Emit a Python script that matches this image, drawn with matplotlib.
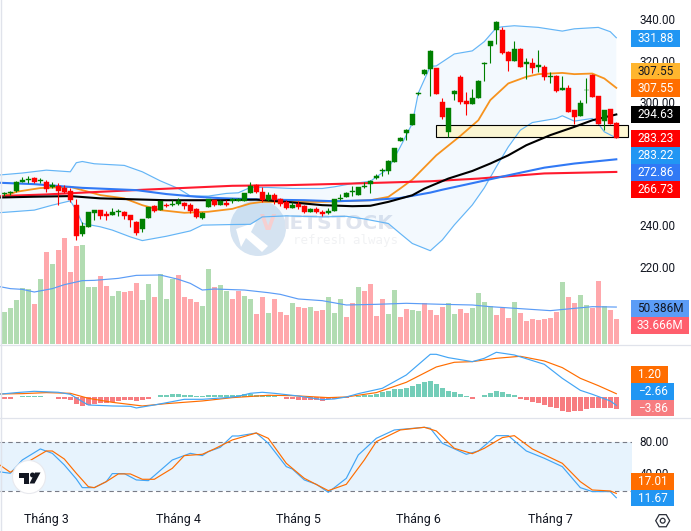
import matplotlib
matplotlib.use("Agg")
import matplotlib.pyplot as plt
from matplotlib.patches import Circle, Polygon, Rectangle, RegularPolygon
from matplotlib.transforms import IdentityTransform

W, H = 691, 531

# Daily candles
opens = [256.0, 256.4, 257.4, 262.0, 262.6, 263.7, 262.4, 261.8, 259.4, 260.0,
         258.9, 257.7, 250.6, 236.5, 239.9, 246.9, 248.3, 246.4, 245.8, 247.5,
         247.4, 245.8, 242.3, 239.1, 244.3, 250.1, 248.2, 250.8, 250.8, 251.1,
         251.6, 250.6, 248.7, 244.5, 249.6, 253.0, 250.6, 251.6, 252.6, 252.6,
         252.6, 256.5, 260.6, 257.2, 253.2, 255.3, 253.5, 252.0, 249.3, 251.3,
         250.1, 247.4, 248.7, 247.2, 246.7, 247.8, 253.7, 254.7, 257.1, 255.6,
         259.3, 261.0, 264.0, 267.1, 267.3, 271.6, 281.8, 285.4, 289.6, 304.6,
         314.4, 316.8, 317.1, 300.6, 286.2, 304.8, 312.7, 301.1, 299.8, 302.7,
         318.9, 328.1, 335.7, 335.6, 324.9, 320.7, 326.3, 318.9, 319.7, 317.9,
         317.6, 312.6, 313.4, 306.7, 307.4, 296.7, 293.8, 306.3, 313.7, 303.5,
         291.5, 297.2, 290.7]
closes = [256.6, 256.8, 261.8, 262.8, 263.1, 262.0, 262.9, 258.4, 260.3, 257.6,
          257.1, 253.2, 235.4, 240.4, 247.2, 248.2, 245.3, 245.3, 247.2, 247.9,
          245.3, 243.3, 237.2, 243.8, 249.6, 247.7, 252.6, 250.3, 251.1, 252.7,
          250.3, 248.0, 244.8, 246.7, 253.4, 250.6, 252.6, 250.8, 253.4, 253.5,
          256.3, 260.1, 256.8, 253.2, 255.3, 252.9, 251.4, 249.3, 250.8, 249.8,
          247.4, 248.7, 247.4, 246.5, 248.0, 253.4, 254.3, 256.4, 257.4, 259.3,
          259.8, 262.3, 264.8, 267.9, 272.0, 278.3, 283.3, 287.0, 294.8, 305.0,
          316.0, 325.5, 304.6, 293.3, 298.0, 305.9, 300.6, 299.6, 302.5, 311.0,
          319.7, 330.2, 339.5, 324.4, 320.7, 326.3, 317.8, 320.2, 317.3, 318.4,
          312.9, 313.2, 305.9, 307.4, 295.7, 293.3, 300.1, 306.6, 303.0, 290.2,
          297.0, 290.2, 283.23]
highs = [257.1, 257.4, 262.3, 264.1, 265.0, 264.1, 263.9, 262.8, 261.8, 261.5,
         260.3, 258.7, 253.4, 242.5, 247.2, 248.2, 248.3, 247.9, 249.0, 248.7,
         247.9, 245.8, 243.0, 243.8, 249.6, 250.6, 252.6, 251.7, 253.0, 254.3,
         252.1, 251.7, 249.2, 247.2, 253.4, 253.0, 253.0, 253.0, 254.2, 254.3,
         256.3, 261.9, 261.1, 259.2, 256.8, 256.3, 254.2, 253.0, 252.2, 252.4,
         250.6, 249.3, 249.5, 248.3, 249.0, 253.4, 255.9, 257.2, 259.8, 259.3,
         261.9, 262.7, 265.6, 268.7, 272.5, 278.3, 283.8, 287.8, 294.8, 305.6,
         316.8, 325.9, 317.1, 302.5, 298.0, 306.7, 313.7, 305.6, 306.9, 311.3,
         320.2, 330.2, 340.0, 337.2, 325.2, 330.2, 326.8, 321.8, 322.1, 325.9,
         318.6, 315.3, 313.7, 313.2, 308.7, 296.7, 301.6, 312.1, 314.2, 303.8,
         297.0, 297.5, 291.2]
lows = [255.1, 255.3, 256.8, 261.8, 261.6, 261.3, 261.3, 257.1, 259.0, 250.6,
        256.3, 252.2, 233.6, 235.5, 239.9, 243.3, 244.1, 243.3, 245.6, 245.3,
        244.0, 240.1, 236.0, 237.6, 244.3, 247.4, 248.2, 249.5, 250.3, 250.9,
        248.7, 247.0, 244.5, 244.0, 249.6, 250.1, 250.6, 250.4, 251.8, 252.6,
        252.6, 256.3, 256.3, 252.2, 252.6, 251.4, 250.4, 248.7, 249.3, 248.7,
        246.9, 247.2, 247.0, 245.5, 246.5, 247.8, 252.9, 254.5, 255.1, 255.6,
        258.8, 256.6, 263.2, 264.8, 265.6, 271.6, 281.8, 282.2, 289.6, 304.0,
        313.7, 303.7, 304.6, 292.2, 283.7, 301.6, 299.6, 294.4, 299.8, 302.7,
        311.0, 319.7, 328.9, 324.1, 315.7, 320.7, 317.8, 312.0, 314.8, 315.3,
        311.6, 310.0, 305.6, 306.7, 295.6, 289.9, 293.8, 300.4, 303.0, 289.9,
        287.3, 289.9, 283.23]

# Bollinger bands
upper_x = [-1, 3, 7, 11, 12, 13, 15, 20, 23, 26, 29, 31, 34, 37, 39, 41, 44, 48, 53, 55,
           58, 61, 64, 66, 68, 69, 71, 72, 75, 78, 80, 82, 83, 85, 89, 93, 95, 99, 101, 102]
upper_band = [265.2, 266.2, 267.6, 266.8, 271.2, 271.8, 270.7, 269.9, 266.8, 262.4,
              258.7, 255.1, 255.0, 256.3, 256.6, 259.2, 259.2, 258.7, 258.7, 259.5,
              261.1, 262.2, 268.4, 278.9, 290.3, 305.0, 318.0, 318.2, 324.0, 325.5,
              330.0, 336.7, 337.2, 337.7, 336.9, 335.1, 336.2, 336.9, 334.8, 331.88]
lower_x = [-1, 5, 8, 11, 12, 13, 16, 18, 21, 23, 27, 31, 33, 38, 41, 43, 47, 53, 57, 60,
           64, 66, 68, 71, 73, 75, 78, 80, 82, 84, 86, 88, 92, 93, 95, 98, 99, 100, 102]
lower_band = [246.9, 248.2, 250.6, 252.7, 248.2, 241.7, 240.1, 238.5, 235.2, 233.4,
              235.5, 238.1, 240.9, 241.2, 241.3, 244.9, 245.4, 244.9, 245.2, 243.9,
              241.7, 236.8, 232.0, 228.5, 233.7, 241.0, 250.7, 259.0, 269.2, 278.9,
              287.0, 290.7, 292.7, 294.0, 291.4, 292.7, 290.2, 286.2, 283.22]
mid_x = [-1, 1, 2, 6, 11, 13, 16, 20, 23, 26, 30, 34, 38, 41, 43, 53, 55, 61, 64, 66,
         68, 72, 76, 79, 81, 84, 87, 89, 93, 95, 98, 100, 102]
mid_band = [254.5, 256.0, 257.1, 258.9, 259.5, 257.9, 255.5, 253.9, 250.6, 248.2,
            246.9, 247.4, 248.8, 251.4, 252.2, 252.2, 252.4, 253.0, 254.6, 258.7,
            263.0, 274.8, 284.2, 291.8, 301.6, 309.7, 312.9, 314.2, 314.8, 314.2,
            314.5, 312.1, 307.55]

# Moving averages
ma_black_x = [-1, 5, 11, 16, 22, 27, 36, 42, 47, 53, 58, 61, 64, 68, 70, 74, 78, 81, 84,
              87, 91, 95, 98, 102]
ma_black = [254.3, 254.7, 255.0, 253.9, 253.4, 253.0, 253.0, 253.3, 252.2, 250.6, 250.1,
            250.3, 252.2, 255.4, 258.6, 263.5, 267.2, 270.8, 274.8, 279.7, 284.6, 288.6,
            291.8, 294.63]
ma_blue_x = [-1, 5, 13, 22, 27, 32, 36, 43, 50, 55, 61, 66, 71, 73, 79, 84, 90, 95, 102]
ma_blue = [261.5, 260.8, 259.0, 257.9, 256.0, 254.7, 254.0, 253.3, 253.0, 252.5, 253.0,
           254.1, 256.7, 258.1, 261.9, 265.1, 268.8, 270.8, 272.86]
ma_red_x = [-1, 7, 16, 24, 38, 47, 58, 71, 79, 90, 102]
ma_red = [255.0, 255.8, 257.1, 258.2, 260.0, 260.3, 261.1, 262.2, 263.5, 266.0, 266.73]

# Volume, in millions of shares
volume = [43.6, 49.1, 60.0, 76.4, 75.0, 54.5, 88.6, 125.5, 109.1, 128.2,
          144.5, 98.2, 133.6, 135.0, 77.7, 77.7, 92.7, 79.1, 65.5, 72.3,
          70.9, 72.3, 83.2, 60.0, 81.8, 64.1, 95.5, 61.4, 88.6, 94.1,
          64.1, 61.4, 57.3, 51.8, 102.3, 77.7, 80.5, 72.3, 61.4, 72.3,
          65.5, 61.4, 40.9, 64.1, 42.3, 61.4, 43.6, 39.5, 55.9, 50.5,
          49.1, 50.5, 45.0, 46.4, 64.1, 42.3, 61.4, 36.8, 55.9, 77.7,
          72.3, 81.8, 38.2, 61.4, 40.9, 73.6, 36.8, 47.7, 46.4, 45.0,
          55.9, 46.4, 39.5, 50.5, 55.9, 40.9, 47.7, 42.3, 49.1, 69.5,
          57.3, 51.8, 39.5, 49.1, 35.5, 57.3, 42.3, 31.4, 34.1, 32.7,
          34.1, 35.5, 43.6, 84.5, 64.1, 55.9, 66.8, 53.2, 49.1, 85.9,
          51.8, 46.4, 33.666]
volume_side = ("gggggrgrgrrrrgggrrggrrrggrgggrrrrggrggrrggrrgrrrgrrgrrggg"
               "rrgrrrrggrrggrrrrggrrggggrrrgrrrrrrrgrrggrrgrr")
vol_ma_x = [-1, 1, 3, 5, 8, 10, 13, 15, 19, 22, 26, 29, 31, 33, 35, 40, 44, 46, 49, 53,
            57, 62, 67, 73, 78, 81, 86, 91, 95, 98, 102]
vol_ma = [78.6, 75.5, 74.5, 70.9, 75.5, 80.9, 86.4, 86.8, 89.5, 93.6, 94.1, 88.2, 82.7,
          73.6, 75.0, 73.6, 70.0, 67.7, 61.4, 59.1, 53.2, 54.1, 55.5, 54.1, 53.2, 50.9,
          48.2, 45.5, 48.6, 50.9, 50.386]

# MACD
macd_hist = [-0.56, -0.56, 0.22, 0.56, 0.56, 0.56, 0.56, 0.22, 0.11, -0.44,
             -0.44, -0.89, -2.22, -2.78, -2.44, -2.22, -2.0, -1.78, -1.56, -1.22,
             -0.89, -0.89, -1.22, -0.89, -0.56, 0.11, 0.78, 0.78, 1.11, 1.11,
             0.89, 0.67, 0.44, 0.56, 0.78, 0.78, 0.78, 0.78, 0.67, 0.78,
             1.0, 1.0, 0.89, 0.78, 0.67, 0.44, 0.11, -0.56, -0.56, -0.89,
             -0.89, -0.89, -0.89, -1.22, -0.67, -0.56, -0.33, -0.2, 0.2, 0.6,
             0.7, 0.8, 1.1, 1.7, 2.2, 2.7, 2.8, 3.2, 3.9, 4.4,
             5.2, 5.6, 4.4, 3.2, 2.1, 1.8, 1.0, 0.4, -0.5, 0.1,
             0.8, 1.3, 2.0, 1.8, 1.1, 0.8, -0.5, -1.0, -1.6, -1.9,
             -2.6, -3.2, -3.4, -4.5, -4.9, -4.5, -4.6, -3.9, -3.7, -3.7,
             -3.6, -3.6, -3.86]
macd_x = [-1, 2, 5, 9, 11, 13, 14, 18, 21, 22, 25, 28, 30, 33, 37, 39, 41, 43, 45, 49,
          53, 55, 57, 59, 63, 67, 71, 72, 74, 78, 80, 82, 85, 90, 93, 96, 98, 101, 102]
macd_line = [1.0, 1.56, 2.0, 1.67, 1.0, -1.44, -2.56, -2.89, -3.0, -3.56, -2.56, -1.44,
             -0.67, -0.67, -0.11, 0.33, 1.33, 1.67, 1.33, 0.44, -0.78, -0.56, 0.11, 1.22,
             3.0, 7.44, 14.33, 14.33, 13.22, 11.89, 13.0, 15.0, 14.11, 11.0, 6.33, 2.33,
             1.0, -1.22, -2.66]
signal_x = [-1, 3, 7, 11, 14, 18, 23, 27, 33, 38, 44, 48, 54, 57, 62, 67, 72, 75, 78,
            82, 86, 90, 93, 96, 99, 102]
signal_line = [1.11, 1.22, 1.56, 1.33, -0.33, -1.67, -2.89, -2.11, -1.22, -0.11, 0.67,
               0.56, -0.11, 0.11, 1.56, 5.0, 10.11, 11.67, 11.89, 13.0, 13.67, 12.11,
               9.89, 6.33, 3.89, 1.20]

# Stochastic
stoch_k_x = [-1, 1, 3, 6, 8, 10, 12, 13, 15, 17, 18, 20, 22, 24, 25, 28, 31, 33, 34, 36,
             38, 39, 42, 44, 47, 48, 50, 52, 54, 57, 59, 62, 65, 70, 71, 73, 77, 79, 82,
             84, 87, 90, 93, 96, 98, 101, 102]
stoch_k = [43.8, 41.8, 58.2, 71.8, 66.4, 52.1, 34.8, 24.1, 24.1, 31.5, 41.4, 41.4, 33.6,
           32.7, 38.9, 58.2, 66.4, 63.6, 68.5, 73.8, 87.8, 87.8, 91.5, 78.8, 50.0, 47.1,
           33.6, 28.2, 18.3, 35.6, 64.4, 84.9, 95.2, 98.5, 97.3, 78.8, 65.2, 69.3, 88.2,
           88.2, 69.3, 60.3, 50.0, 24.1, 19.2, 19.2, 11.67]
stoch_d_x = [-1, 1, 4, 7, 8, 10, 12, 14, 15, 17, 19, 21, 23, 25, 28, 30, 33, 35, 38, 42,
             44, 47, 50, 54, 57, 60, 62, 66, 70, 72, 75, 78, 80, 83, 85, 88, 93, 96, 98,
             101, 102]
stoch_d = [53.3, 43.0, 56.2, 69.3, 69.3, 59.4, 41.8, 25.3, 24.1, 31.5, 41.0, 41.0, 34.4,
           34.4, 47.9, 63.6, 65.2, 71.8, 82.9, 91.5, 84.9, 54.1, 35.6, 20.4, 28.2, 58.2,
           80.8, 95.2, 98.5, 94.0, 72.6, 66.0, 72.6, 85.8, 88.2, 71.8, 54.1, 31.5, 21.2,
           20.0, 17.01]

price_ticks = [340, 320, 300, 240, 220]
stoch_ticks = [80, 40]
month_ticks = [7, 29, 49, 69, 91]
month_labels = ["Tháng 3", "Tháng 4", "Tháng 5", "Tháng 6", "Tháng 7"]

UP = "#008000"
DOWN = "#ff0000"
FONT = "Roboto"
TEXT = "#131722"
AXIS_SIZE = 8.5
PLOT_RIGHT = 632
PIXELS = IdentityTransform()


def fx(x):
    return x / W


def fy(y):
    return 1 - y / H


def fig_polygon(points, zorder, face):
    """Filled polygon given in top-left pixel coordinates."""
    fig.add_artist(Polygon([(fx(a), fy(b)) for a, b in points], facecolor=face, edgecolor="none",
                           transform=fig.transFigure, zorder=zorder))


def pane(top, bottom, ymin, ymax, zorder):
    """Axes covering a horizontal pixel band, one bar every six pixels."""
    ax = fig.add_axes([0, fy(bottom), fx(PLOT_RIGHT), (bottom - top) / H], zorder=zorder)
    ax.set_xlim(-4.3 / 6, (PLOT_RIGHT - 4.3) / 6)
    ax.set_ylim(ymin, ymax)
    ax.axis("off")
    ax.patch.set_visible(False)
    return ax


def value_box(text, x0, x1, y0, y1, face, color="white"):
    fig.add_artist(Rectangle((fx(x0), fy(y1)), (x1 - x0) / W, (y1 - y0) / H, facecolor=face,
                             edgecolor="none", transform=fig.transFigure, zorder=20))
    fig.text(fx((x0 + x1) / 2), fy((y0 + y1) / 2 + 0.3), text, color=color, ha="center", va="center",
             fontsize=AXIS_SIZE, family=FONT, zorder=21)


fig = plt.figure(figsize=(W / 100, H / 100), dpi=100, facecolor="white")

# Volume sits underneath the price pane and shares its pixel band
ax_vol = pane(0, 344, 0, 344 / 0.7333, 1)
ax_price = pane(0, 344, 340 - (344 - 21) / 2.06, 340 + 21 / 2.06, 2)
ax_macd = pane(345, 418, -20.7 / 3, 52.3 / 3, 2)
ax_stoch = pane(418, 510, 80 - 67.7 / 0.811, 80 + 24.3 / 0.811, 2)

# Watermark behind the price pane
fig.add_artist(Circle((258, H - 228), 28, facecolor="#d5e3f1", edgecolor="none", zorder=0, transform=PIXELS))
fig_polygon([(236, 229), (256, 222), (251, 232), (268, 246), (262, 252), (246, 238), (241, 247)], 0, "white")
fig.text(fx(260), fy(223.5), "V", color="#f6cfd0", fontsize=15, weight="bold", family="DejaVu Sans",
         va="center", zorder=0)
fig.text(fx(282), fy(223.5), "IETSTOCK", color="#dfe4ee", fontsize=14.5, weight="bold",
         family="DejaVu Sans", va="center", zorder=0)
fig.text(fx(293), fy(240), "refresh always", color="#f1f2f4", fontsize=9, family="DejaVu Sans Mono",
         va="center", zorder=0)

# Volume bars and their average
vol_colors = ["#b2dcb2" if s == "g" else "#ffa8ac" for s in volume_side]
ax_vol.bar(range(len(volume)), volume, width=0.78, color=vol_colors, linewidth=0)
ax_vol.plot(vol_ma_x, vol_ma, color="#5b9cf6", lw=0.85, solid_joinstyle="round")

# Bollinger band fill and edges
ax_price.fill(upper_x + lower_x[::-1], upper_band + lower_band[::-1], color="#2196f3", alpha=0.05, lw=0, zorder=1)
ax_price.plot(upper_x, upper_band, color="#64b5f6", lw=0.85, zorder=3)
ax_price.plot(lower_x, lower_band, color="#64b5f6", lw=0.85, zorder=3)

# Support zone
ax_price.add_patch(Rectangle((72, 283.7), 32, 6.0, facecolor="#fff3b0", alpha=0.55, edgecolor="none", zorder=2))
ax_price.add_patch(Rectangle((72, 283.7), 32, 6.0, facecolor="none", edgecolor="black", lw=0.8, zorder=4))

ax_price.plot(mid_x, mid_band, color="#f7931e", lw=1.3, zorder=3)
ax_price.plot(ma_red_x, ma_red, color="#ff1a2e", lw=1.5, zorder=3)
ax_price.plot(ma_blue_x, ma_blue, color="#3179f5", lw=1.5, zorder=3)
ax_price.plot(ma_black_x, ma_black, color="black", lw=1.5, zorder=3)

# Candles
for i, (o, c, h, l) in enumerate(zip(opens, closes, highs, lows)):
    col = UP if c >= o else DOWN
    ax_price.plot([i, i], [l, h], color=col, lw=0.8, zorder=5, solid_capstyle="butt")
    ax_price.bar(i, abs(c - o), bottom=min(o, c), width=0.78, color=col, linewidth=0.3, edgecolor=col, zorder=6)

# MACD pane
hist_colors = ["#73cdb8" if v >= 0 else "#f77c80" for v in macd_hist]
ax_macd.bar(range(len(macd_hist)), macd_hist, width=0.78, color=hist_colors, linewidth=0)
ax_macd.plot(signal_x, signal_line, color="#ff6d00", lw=0.85)
ax_macd.plot(macd_x, macd_line, color="#42a5f5", lw=0.85)

# Stochastic pane
ax_stoch.axhspan(20, 80, color="#e7f3fd", lw=0)
ax_stoch.axhline(80, color="#787b86", lw=0.8, dashes=(4, 3))
ax_stoch.axhline(20, color="#787b86", lw=0.8, dashes=(4, 3))
ax_stoch.plot(stoch_k_x, stoch_k, color="#42a5f5", lw=0.85)
ax_stoch.plot(stoch_d_x, stoch_d, color="#ff6d00", lw=0.85)

# Pane separators and left border
for y in (344.6, 418.3):
    fig.add_artist(plt.Line2D([0, 1], [fy(y), fy(y)], color="#e0e3eb", lw=0.9, zorder=15))
fig.add_artist(plt.Line2D([fx(0.5), fx(0.5)], [0, 1], color="#e0e3eb", lw=1.0, zorder=15))

# Axis tick labels, partly covered by the value boxes
for v in price_ticks:
    y = 21 + (340 - v) * 2.06
    fig.text(fx(657), fy(y), f"{v:.2f}", color=TEXT, ha="center", va="center",
             fontsize=AXIS_SIZE, family=FONT, zorder=10)
for v in stoch_ticks:
    y = 442.3 + (80 - v) * 0.811
    fig.text(fx(654), fy(y), f"{v:.2f}", color=TEXT, ha="center", va="center",
             fontsize=AXIS_SIZE, family=FONT, zorder=10)
for i, label in zip(month_ticks, month_labels):
    fig.text(fx(4.3 + 6 * i), fy(519.5), label, color=TEXT, ha="center", va="center", fontsize=8.9, family=FONT)

# Value boxes along the right edge
value_box("331.88", 631, 680, 30, 46.7, "#2196f3")
value_box("307.55", 631, 680, 62.7, 79.3, "#ffb52e", TEXT)
value_box("307.55", 631, 680, 79.3, 96.7, "#ff6d00")
value_box("294.63", 631, 680, 106, 122.7, "black")
value_box("283.23", 631, 680, 130, 146.7, "#ff0000")
value_box("283.22", 631, 680, 146.7, 164, "#2196f3")
value_box("272.86", 631, 680, 164, 180.7, "#3179f5")
value_box("266.73", 631, 680, 180.7, 197.7, "#ff0000")
value_box("50.386M", 631, 689, 300, 317, "#5b9cf6", TEXT)
value_box("33.666M", 631, 689, 317, 333.7, "#ff5f6d")
value_box("1.20", 631, 668, 366, 383, "#ff6d00")
value_box("\u22122.66", 631, 674, 383, 400, "#2196f3")
value_box("\u22123.86", 631, 674, 400, 416, "#f77c80")
value_box("17.01", 631, 674, 473, 490, "#ff6d00")
value_box("11.67", 631, 674, 490, 506, "#2196f3")

# Logo badge in the stochastic pane
fig.add_artist(Circle((29, H - 477), 16.5, facecolor="white", edgecolor="#e8e9ee", lw=0.8,
                      transform=PIXELS, zorder=16))
fig_polygon([(19, 472.5), (29.5, 472.5), (29.5, 483.5), (24, 483.5), (24, 478), (19, 478)], 17, "#131722")
fig.add_artist(Circle((32.5, H - 475), 2.5, facecolor="#131722", edgecolor="none", transform=PIXELS, zorder=17))
fig_polygon([(35, 472.5), (40.5, 472.5), (34.5, 483.5), (29.5, 483.5)], 17, "#131722")

# Settings icon in the corner
fig.add_artist(RegularPolygon((662.7, H - 520.7), 6, radius=7, orientation=0.5236, facecolor="white",
                              edgecolor="#2a2e39", lw=0.9, transform=PIXELS, zorder=17))
fig.add_artist(Circle((662.7, H - 520.7), 2.4, facecolor="white", edgecolor="#2a2e39", lw=0.9,
                      transform=PIXELS, zorder=18))

fig.savefig("out.png", dpi=100)
